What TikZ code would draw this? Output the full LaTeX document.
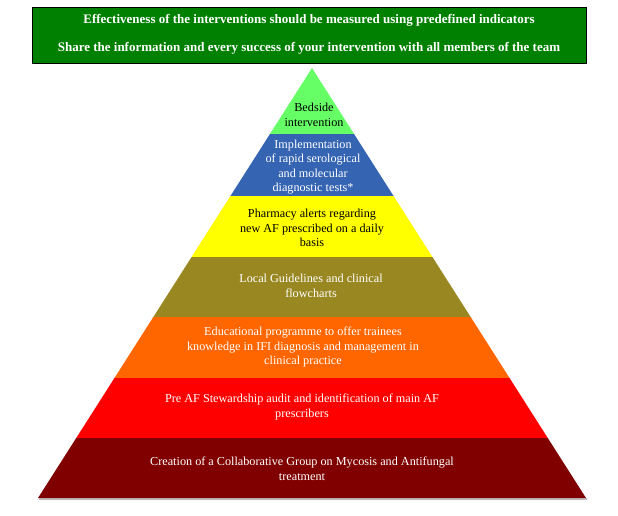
\documentclass[tikz,border=0pt]{standalone}
\usepackage{fontspec}
\setmainfont{Liberation Serif}
\usetikzlibrary{calc}
\definecolor{boxgreen}{RGB}{0,128,0}
\definecolor{lgreen}{RGB}{102,255,102}
\definecolor{sblue}{RGB}{52,100,178}
\definecolor{pyellow}{RGB}{255,255,0}
\definecolor{polive}{RGB}{153,136,34}
\definecolor{porange}{RGB}{255,102,0}
\definecolor{pred}{RGB}{255,0,0}
\definecolor{pdark}{RGB}{128,0,0}
\newcommand\pyrband[3]{\fill[#3] ({312-(#1-68)*0.63721},#1) -- ({312+(#1-68)*0.63721},#1) -- ({312+(#2-68)*0.63721},#2) -- ({312-(#2-68)*0.63721},#2) -- cycle;}
\begin{document}
\begin{tikzpicture}[x=1pt,y=-1pt,
  bandtext/.style={align=center,font=\fontsize{12.2}{14.5}\selectfont,inner sep=0pt},
  titletext/.style={font=\fontsize{13}{14}\selectfont\bfseries,text=white,inner sep=0pt},
  topbox/.style={draw=black,line width=0.8pt,fill=boxgreen,inner sep=0pt,anchor=north west,minimum width=554pt,minimum height=56pt}]
\useasboundingbox (0,0) rectangle (618,515);
% header box
\node[topbox] (box) at (32,7) {};
\node[titletext] (t1) at (309,20) {Effectiveness of the interventions should be measured using predefined indicators};
\node[titletext] (t2) at (309,48) {Share the information and every success of your intervention with all members of the team};
% shadow
\fill[black!25] (39.5,498) -- (587.5,498) -- (587,500) -- (39,500) -- cycle;
% bands
\pyrband{68}{134}{lgreen}
\pyrband{134}{196}{sblue}
\pyrband{196}{257}{pyellow}
\pyrband{257}{317}{polive}
\pyrband{317}{378}{porange}
\pyrband{378}{438}{pred}
\pyrband{438}{498}{pdark}
% texts
\node[bandtext,text=black] (b1) at (314,115) {Bedside\\intervention};
\node[bandtext,text=white] (b2) at (313,167) {Implementation\\of rapid serological\\and molecular\\diagnostic tests*};
\node[bandtext,text=black] (b3) at (312,228) {Pharmacy alerts regarding\\new AF prescribed on a daily\\basis};
\node[bandtext,text=white] (b4) at (311,286) {Local Guidelines and clinical\\flowcharts};
\node[bandtext,text=white] (b5) at (303,347) {Educational programme to offer trainees\\knowledge in IFI diagnosis and management in\\clinical practice};
\node[bandtext,text=white] (b6) at (302,407) {Pre AF Stewardship audit and identification of main AF\\prescribers};
\node[bandtext,text=white] (b7) at (302,469) {Creation of a Collaborative Group on Mycosis and Antifungal\\treatment};
\end{tikzpicture}
\end{document}
